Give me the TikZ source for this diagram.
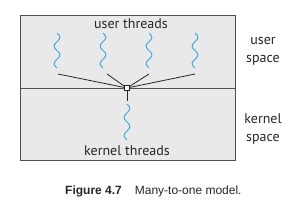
\documentclass[tikz,border=0pt]{standalone}
\usepackage{fontspec}
\setmainfont{PT Sans}
\newfontfamily\capfont{Liberation Sans}
\usepackage{xcolor}
\usetikzlibrary{positioning}
\definecolor{spacegray}{RGB}{233, 233, 233}
\definecolor{framegray}{RGB}{80, 80, 80}
\definecolor{threadblue}{RGB}{64, 170, 230}

\begin{document}
\begin{tikzpicture}[
    x=1pt, y=-1pt,
    every node/.style={font=\fontsize{14}{18}\selectfont, text=black!85, inner sep=0pt},
    region/.style={draw=framegray, fill=spacegray, line width=1pt},
    thread/.style={draw=threadblue, line width=1pt},
    link/.style={draw=black!85, line width=0.8pt},
    hub/.style={rectangle, draw=black!85, fill=white, line width=0.7pt, minimum size=5.5pt}
]
\useasboundingbox (0,0) rectangle (298,207);
% the two address spaces
\draw[region] (20,15) rectangle (235,160);
\draw[region] (20,88) -- (235,88);
\node[hub] (lwp) at (127,88) {};
% user threads and their links
\foreach \tx in {57,103,149,195} {
    \draw[thread] plot[domain=0:35, samples=50] ({\tx+2.8*sin(\x*(720/35))}, {33+\x});
}
\foreach \tx/\name in {58/ua,107/ub,149/uc,195/ud} {
    \coordinate (\name) at (\tx,74);
    \draw[link] (\name) -- (lwp);
}
% kernel thread
\coordinate (kt) at (127,101);
\draw[link] (lwp) -- (kt);
\draw[thread] plot[domain=0:36, samples=50] ({127+2.8*sin(\x*20)}, {104+\x});
% labels
\node (ut) at (131,24) {user threads};
\node (kth) at (127,151) {kernel threads};
\node[align=center] (us) at (263,51) {user\\space};
\node[align=center] (ks) at (263,129) {kernel\\space};
\node[font=\capfont\fontsize{12}{14}\selectfont, anchor=west] (cap) at (65,191)
    {\textbf{Figure 4.7}\hspace{13pt}Many-to-one model.};
\end{tikzpicture}
\end{document}
